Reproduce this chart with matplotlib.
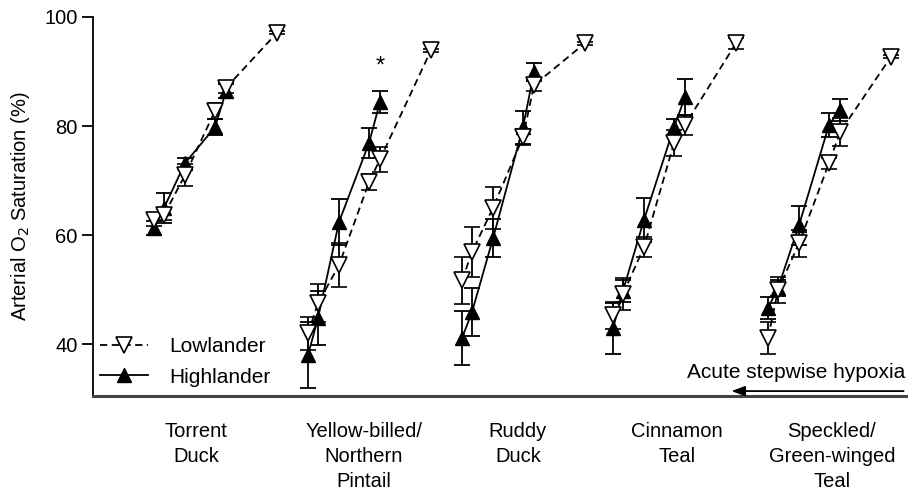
import matplotlib.pyplot as plt
from matplotlib.lines import Line2D
import numpy as np

plt.rcParams['font.family'] = ['Liberation Sans', 'DejaVu Sans']

# step positions within a species block (same hypoxia steps for every species)
step_offsets = np.array([0.0, 1.0, 3.1, 6.1, 7.2, 12.3])
group_starts = [6.1, 21.5, 36.9, 52.0, 67.5]

species = ["Torrent\nDuck", "Yellow-billed/\nNorthern\nPintail", "Ruddy\nDuck",
           "Cinnamon\nTeal", "Speckled/\nGreen-winged\nTeal"]
label_pos = [10.3, 27.1, 42.5, 58.4, 73.9]

# arterial O2 saturation (%), mean and SE
low_mean = [
    [62.8, 63.7, 71.0, 82.8, 87.0, 97.1],
    [42.0, 47.5, 54.5, 69.7, 73.9, 93.9],
    [51.7, 56.9, 65.0, 78.0, 87.5, 95.2],
    [45.3, 49.2, 57.8, 76.9, 80.2, 95.2],
    [41.1, 49.9, 58.5, 73.2, 78.9, 92.7],
]
low_se = [
    [1.2, 1.0, 2.0, 1.5, 1.0, 0.3],
    [3.0, 3.5, 4.0, 1.5, 2.3, 0.3],
    [4.3, 4.6, 3.8, 1.5, 1.0, 0.3],
    [2.5, 3.0, 1.8, 2.4, 1.8, 1.0],
    [2.9, 2.4, 2.5, 1.0, 2.6, 0.3],
]
high_mean = [
    [61.3, 65.0, 73.2, 79.8, 86.4],
    [38.0, 44.8, 62.4, 76.9, 84.4],
    [41.1, 45.9, 59.4, 79.8, 89.9],
    [42.9, 49.8, 62.8, 79.8, 85.3],
    [46.6, 50.3, 61.8, 80.2, 83.0],
]
high_se = [
    [1.3, 2.7, 1.0, 1.5, 1.3],
    [6.0, 5.0, 4.2, 2.7, 2.0],
    [5.0, 4.4, 3.5, 3.0, 1.6],
    [4.7, 2.0, 4.0, 1.5, 3.3],
    [2.0, 1.5, 3.6, 2.2, 2.0],
]

fig = plt.figure(figsize=(9.08, 4.95), dpi=100)
ax = fig.add_axes([93 / 908, 99 / 495, 815 / 908, 379 / 495])

low_style = dict(color='black', ls=(0, (4, 2.5)), lw=1.3, marker='v', ms=11,
                 mfc='white', mec='black', mew=1.2)
high_style = dict(color='black', ls='-', lw=1.3, marker='^', ms=10,
                  mfc='black', mec='black')
eb = dict(ecolor='black', elinewidth=1.3, capsize=5.5, capthick=1.3)

for i, x0 in enumerate(group_starts):
    xl = x0 + step_offsets
    xh = x0 + step_offsets[:5]
    ax.errorbar(xh, high_mean[i], yerr=high_se[i], zorder=3, **high_style, **eb)
    ax.errorbar(xl, low_mean[i], yerr=low_se[i], zorder=4, **low_style, **eb)

# significant difference marker
ax.text(group_starts[1] + step_offsets[4], 91.0, '*', ha='center', va='center', fontsize=17)

ax.set_xlim(0, 81.5)
ax.set_ylim(30.5, 100)
ax.set_yticks([40, 60, 80, 100])
ax.tick_params(axis='y', length=8, width=1.3, labelsize=14.5, pad=3)
ax.set_xticks(label_pos)
ax.set_xticklabels(species, fontsize=14.5, linespacing=1.4)
ax.tick_params(axis='x', length=0, pad=19)
ax.set_ylabel('Arterial O$_2$ Saturation (%)', fontsize=14.5, labelpad=9)

for s in ['top', 'right']:
    ax.spines[s].set_visible(False)
ax.spines['left'].set_linewidth(1.3)
ax.spines['bottom'].set_linewidth(2.2)
ax.spines['bottom'].set_color('#444444')

handles = [Line2D([], [], **low_style), Line2D([], [], **high_style)]
ax.legend(handles, ['Lowlander', 'Highlander'], loc='lower left',
          bbox_to_anchor=(0.009, 0.025), borderpad=0, borderaxespad=0, frameon=False,
          fontsize=15, handlelength=2.3, handletextpad=1.0, labelspacing=0.55)

# stepwise hypoxia arrow
ax.annotate('', xy=(0.78, 0.013), xytext=(0.998, 0.013), xycoords='axes fraction',
            arrowprops=dict(arrowstyle='-|>,head_length=0.8,head_width=0.3', color='black', lw=1.3))
ax.text(0.997, 0.062, 'Acute stepwise hypoxia', transform=ax.transAxes, ha='right',
        va='center', fontsize=15)

fig.savefig('out.png', dpi=100)
